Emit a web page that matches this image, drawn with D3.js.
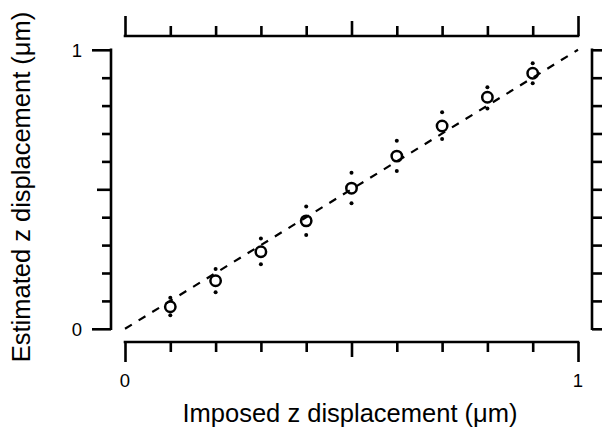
<!DOCTYPE html>
<html>
<head>
<meta charset="utf-8">
<script src="https://cdn.jsdelivr.net/npm/d3@7"></script>
<style>
  html, body { margin: 0; padding: 0; background: #fff; }
  svg { display: block; font-family: "Liberation Sans", Arial, Helvetica, sans-serif; }
</style>
</head>
<body>
<svg id="chart" width="602" height="436"></svg>
<script>
// Imposed displacement steps (µm)
const imposed = [0.1, 0.2, 0.3, 0.4, 0.5, 0.6, 0.7, 0.8, 0.9];
// Mean estimated displacement (µm)
const estimated = [0.079, 0.172, 0.276, 0.387, 0.504, 0.619, 0.727, 0.830, 0.916];
// Spread markers above and below each mean
const upper = [0.111, 0.214, 0.324, 0.438, 0.559, 0.674, 0.776, 0.866, 0.952];
const lower = [0.049, 0.131, 0.231, 0.336, 0.450, 0.566, 0.680, 0.790, 0.880];
// Axis ticks
const tickValues = [0, 0.1, 0.2, 0.3, 0.4, 0.5, 0.6, 0.7, 0.8, 0.9, 1];
const tickLabels = ["0", "1"];
const xTitle = "Imposed z displacement (\u03BCm)";
const yTitle = "Estimated z displacement (\u03BCm)";

const svg = d3.select("#chart");
const x = d3.scaleLinear().domain([0, 1]).range([125, 578]);
const y = d3.scaleLinear().domain([0, 1]).range([328.8, 49.8]);

const SW = 2.6;
// tick length: long at ends, medium at midpoint, short otherwise
const tickLen = v => (v === 0 || v === 1) ? 20 : (Math.abs(v - 0.5) < 1e-9 ? 15 : 10);

function styleAxis(g) {
  g.selectAll(".domain").remove();
  g.selectAll("text").remove();
  g.selectAll("line").attr("stroke", "#000").attr("stroke-width", SW);
}

// frame offsets
const leftX = 111, rightX = 592, topY = 36, bottomY = 342;

// bottom axis
const gB = svg.append("g").attr("transform", `translate(0,${bottomY})`)
  .call(d3.axisBottom(x).tickValues(tickValues).tickSizeOuter(0));
styleAxis(gB);
gB.selectAll(".tick line").attr("y2", d => tickLen(d));
gB.append("line").attr("x1", x(0) - SW / 2).attr("x2", x(1) + SW / 2).attr("stroke", "#000").attr("stroke-width", SW);

// top axis
const gT = svg.append("g").attr("transform", `translate(0,${topY})`)
  .call(d3.axisTop(x).tickValues(tickValues).tickSizeOuter(0));
styleAxis(gT);
gT.selectAll(".tick line").attr("y2", d => -tickLen(d));
gT.append("line").attr("x1", x(0) - SW / 2).attr("x2", x(1) + SW / 2).attr("stroke", "#000").attr("stroke-width", SW);

// left axis
const gL = svg.append("g").attr("transform", `translate(${leftX},0)`)
  .call(d3.axisLeft(y).tickValues(tickValues).tickSizeOuter(0));
styleAxis(gL);
gL.selectAll(".tick line").attr("x2", d => -(tickLen(d) - 1));
gL.append("line").attr("y1", y(0) + SW / 2).attr("y2", y(1) - SW / 2).attr("stroke", "#000").attr("stroke-width", SW);

// right axis
const gR = svg.append("g").attr("transform", `translate(${rightX},0)`)
  .call(d3.axisRight(y).tickValues(tickValues).tickSizeOuter(0));
styleAxis(gR);
gR.selectAll(".tick line").attr("x2", d => tickLen(d));
gR.append("line").attr("y1", y(0) + SW / 2).attr("y2", y(1) - SW / 2).attr("stroke", "#000").attr("stroke-width", SW);

// tick labels
svg.selectAll(".xlab").data([0, 1]).join("text")
  .attr("x", d => x(d)).attr("y", 387)
  .attr("text-anchor", "middle").attr("font-size", 18.5)
  .text((d, i) => tickLabels[i]);
svg.selectAll(".ylab").data([0, 1]).join("text")
  .attr("x", 82).attr("y", d => y(d) + 7)
  .attr("text-anchor", "end").attr("font-size", 18.5)
  .text((d, i) => tickLabels[i]);

// axis titles
svg.append("text").attr("x", 350).attr("y", 422)
  .attr("text-anchor", "middle").attr("font-size", 25.5).text(xTitle);
svg.append("text").attr("transform", "translate(30,187) rotate(-90)")
  .attr("text-anchor", "middle").attr("font-size", 25.5).text(yTitle);

// identity reference line
svg.append("line")
  .attr("x1", x(0)).attr("y1", y(0)).attr("x2", x(1)).attr("y2", y(1))
  .attr("stroke", "#000").attr("stroke-width", 2.2).attr("stroke-dasharray", "8,8");

const pts = imposed.map((v, i) => ({ x: v, y: estimated[i], hi: upper[i], lo: lower[i] }));

// spread dots
svg.selectAll(".hi").data(pts).join("circle")
  .attr("cx", d => x(d.x)).attr("cy", d => y(d.hi)).attr("r", 2).attr("fill", "#000");
svg.selectAll(".lo").data(pts).join("circle")
  .attr("cx", d => x(d.x)).attr("cy", d => y(d.lo)).attr("r", 2).attr("fill", "#000");

// mean markers
svg.selectAll(".pt").data(pts).join("circle")
  .attr("cx", d => x(d.x)).attr("cy", d => y(d.y)).attr("r", 5.2)
  .attr("fill", "none").attr("stroke", "#000").attr("stroke-width", 2.5);
</script>
</body>
</html>
